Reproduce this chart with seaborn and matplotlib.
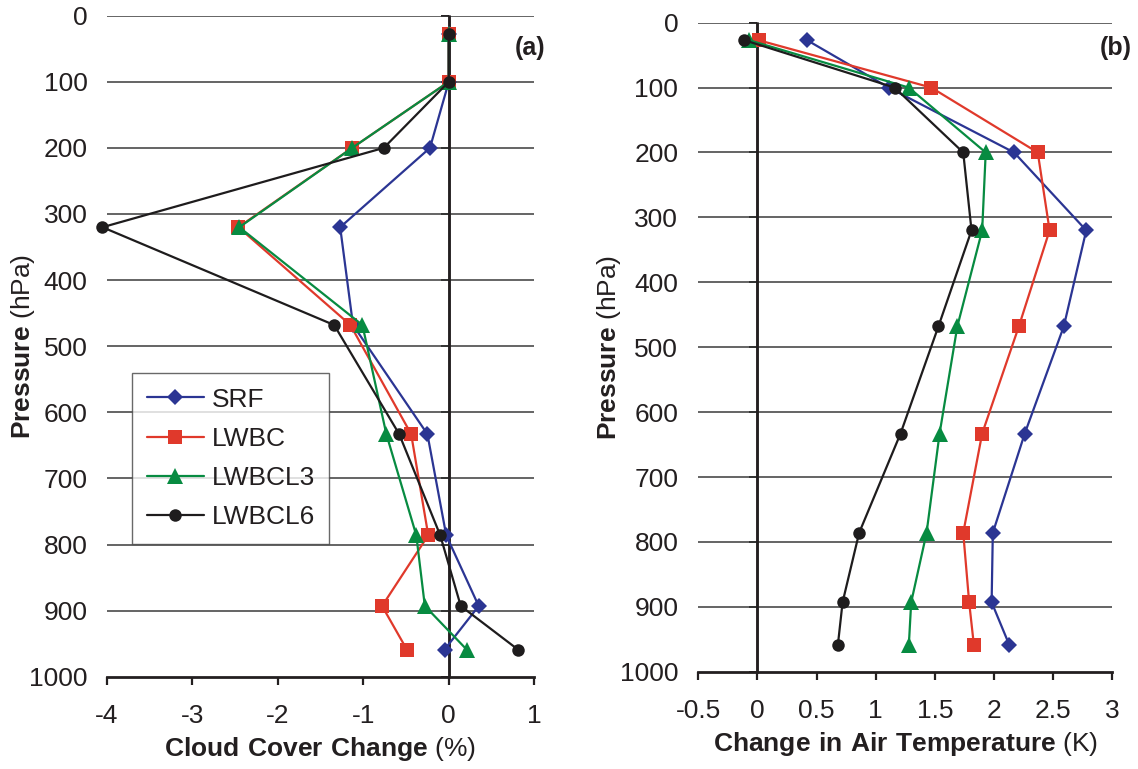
import numpy as np
import pandas as pd
import matplotlib
matplotlib.use("Agg")
import matplotlib.pyplot as plt
import seaborn as sns

# ---- data ----
pressure = [27, 100, 200, 320, 468, 633, 786, 893, 959]
series_names = ["SRF", "LWBC", "LWBCL3", "LWBCL6"]

cloud_srf    = [0.0, 0.0, -0.22, -1.27, -1.12, -0.25, -0.03, 0.35, -0.05]
cloud_lwbc   = [0.0, 0.0, -1.13, -2.46, -1.15, -0.44, -0.24, -0.78, -0.49]
cloud_lwbcl3 = [0.0, 0.0, -1.13, -2.45, -1.01, -0.73, -0.38, -0.28, 0.21]
cloud_lwbcl6 = [0.0, 0.0, -0.76, -4.05, -1.34, -0.58, -0.10, 0.14, 0.81]

temp_srf    = [0.42, 1.11, 2.17, 2.78, 2.59, 2.26, 1.99, 1.98, 2.13]
temp_lwbc   = [0.01, 1.47, 2.37, 2.47, 2.21, 1.90, 1.74, 1.79, 1.83]
temp_lwbcl3 = [-0.07, 1.28, 1.93, 1.90, 1.69, 1.54, 1.43, 1.30, 1.28]
temp_lwbcl6 = [-0.11, 1.16, 1.74, 1.81, 1.53, 1.21, 0.86, 0.72, 0.68]

pressure_ticks = [0, 100, 200, 300, 400, 500, 600, 700, 800, 900, 1000]
cloud_ticks = [-4, -3, -2, -1, 0, 1]
temp_ticks = [-0.5, 0, 0.5, 1, 1.5, 2, 2.5, 3]
temp_tick_labels = ["-0.5", "0", "0.5", "1", "1.5", "2", "2.5", "3"]

# ---- style ----
sns.set_theme(style="white")
plt.rcParams["font.family"] = ["Liberation Sans", "DejaVu Sans"]
plt.rcParams["mathtext.fontset"] = "custom"
plt.rcParams["mathtext.bf"] = "Liberation Sans:bold"
plt.rcParams["mathtext.rm"] = "Liberation Sans"

FS = 19
TXT = "#231F20"
colors = {"SRF": "#2B3593", "LWBC": "#E0392B", "LWBCL3": "#078B41", "LWBCL6": "#1E1C1D"}
markers = {"SRF": "D", "LWBC": "s", "LWBCL3": "^", "LWBCL6": "o"}
msizes = {"SRF": 8.5, "LWBC": 10.5, "LWBCL3": 11, "LWBCL6": 9}

fig = plt.figure(figsize=(11.38, 7.69), dpi=100)
ax1 = fig.add_axes([0.0938, 0.120, 0.3757, 0.8596])
ax2 = fig.add_axes([0.6136, 0.1265, 0.3638, 0.844])

cloud = [cloud_srf, cloud_lwbc, cloud_lwbcl3, cloud_lwbcl6]
temp = [temp_srf, temp_lwbc, temp_lwbcl3, temp_lwbcl6]


def draw(ax, vals, xlim, xticks, xticklabels, pad_pt):
    for name, v in zip(series_names, vals):
        df = pd.DataFrame({"x": v, "p": pressure})
        sns.lineplot(data=df, x="x", y="p", ax=ax, sort=False, estimator=None,
                     orient="y", color=colors[name], marker=markers[name],
                     markersize=msizes[name], markeredgewidth=0, linewidth=1.6,
                     label=name, zorder=3, clip_on=False)
    ax.set_xlim(*xlim)
    ax.set_ylim(1000, 0)
    for p in pressure_ticks[:-1]:
        ax.axhline(p, color="#3a3a3a", lw=1.1, zorder=1)
    ax.axvline(0, color=TXT, lw=1.8, zorder=2)
    for s in ["top", "right"]:
        ax.spines[s].set_visible(False)
    ax.spines["left"].set_position(("data", 0))
    ax.spines["left"].set_color(TXT)
    ax.spines["left"].set_linewidth(1.8)
    ax.spines["bottom"].set_color(TXT)
    ax.spines["bottom"].set_linewidth(2.0)
    ax.set_yticks(pressure_ticks)
    ax.set_yticklabels([str(t) for t in pressure_ticks])
    ax.set_xticks(xticks)
    ax.set_xticklabels(xticklabels)
    ax.tick_params(axis="y", direction="out", length=6, width=1.4,
                   color=TXT, left=True, pad=pad_pt, labelsize=FS,
                   labelcolor=TXT)
    ax.tick_params(axis="x", direction="out", length=6, width=1.6,
                   color=TXT, bottom=True, pad=14, labelsize=FS,
                   labelcolor=TXT)
    ax.set_facecolor("white")


draw(ax1, cloud, (-4, 1), cloud_ticks, [str(t) for t in cloud_ticks], 254)
draw(ax2, temp, (-0.5, 3), temp_ticks, temp_tick_labels, 51)

ax1.set_xlabel(r"$\bf{Cloud\ Cover\ Change}$ (%)", fontsize=FS, color=TXT, labelpad=5)
ax2.set_xlabel(r"$\bf{Change\ in\ Air\ Temperature}$ (K)", fontsize=FS, color=TXT, labelpad=5)
ax1.set_ylabel(r"$\bf{Pressure}$ (hPa)", fontsize=FS, color=TXT)
ax2.set_ylabel(r"$\bf{Pressure}$ (hPa)", fontsize=FS, color=TXT)
ax1.yaxis.set_label_coords(-0.162, 0.5)
ax2.yaxis.set_label_coords(-0.182, 0.5)

ax1.text(1.025, 0.951, "(a)", transform=ax1.transAxes, ha="right", va="center",
         fontsize=18, fontweight="bold", color=TXT)
ax2.text(1.047, 0.961, "(b)", transform=ax2.transAxes, ha="right", va="center",
         fontsize=18, fontweight="bold", color=TXT)

leg = ax1.legend(loc="lower left", bbox_to_anchor=(0.06, 0.2008), borderaxespad=0,
                 frameon=True, fancybox=False, edgecolor="#444444", fontsize=FS,
                 handlelength=2.15, labelspacing=0.58, borderpad=0.55,
                 handletextpad=0.3)
leg.get_frame().set_linewidth(1.0)
for t in leg.get_texts():
    t.set_color(TXT)
ax2.get_legend().remove()

fig.savefig("out.png", dpi=100, facecolor="white")
